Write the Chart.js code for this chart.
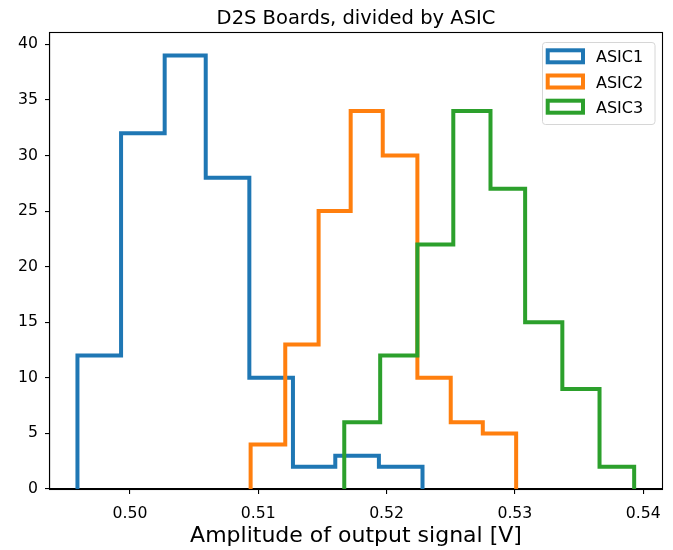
<!DOCTYPE html>
<html>
<head>
<meta charset="utf-8">
<script src="https://cdn.jsdelivr.net/npm/chart.js@4/dist/chart.umd.min.js"></script>
<style>
  html, body { margin: 0; padding: 0; background: #fff; }
  #wrap { width: 673px; height: 550px; }
</style>
</head>
<body>
<div id="wrap"><canvas id="c" width="673" height="550"></canvas></div>
<script>
// Histogram bin edges (V) and counts per ASIC
const asic1Edges  = [0.4959, 0.4993, 0.5027, 0.5059, 0.5093, 0.5127, 0.5160, 0.5194, 0.5228];
const asic1Counts = [12, 32, 39, 28, 10, 2, 3, 2];
const asic2Edges  = [0.5094, 0.5121, 0.5147, 0.5172, 0.5197, 0.5224, 0.5250, 0.5275, 0.5301];
const asic2Counts = [4, 13, 25, 34, 30, 10, 6, 5];
const asic3Edges  = [0.5167, 0.5195, 0.5224, 0.5252, 0.5281, 0.5308, 0.5337, 0.5366, 0.5393];
const asic3Counts = [6, 12, 22, 34, 27, 15, 9, 2];

const seriesNames = ['ASIC1', 'ASIC2', 'ASIC3'];
const xTickValues = [0.50, 0.51, 0.52, 0.53, 0.54];
const yTickValues = [0, 5, 10, 15, 20, 25, 30, 35, 40];

const chartTitle = 'D2S Boards, divided by ASIC';
const xTitle = 'Amplitude of output signal [V]';

const colors = ['#1f77b4', '#ff7f0e', '#2ca02c'];
const FONT = '"DejaVu Sans", "Liberation Sans", sans-serif';

// Step outline of a histogram: up at the first edge, across each bin, down at the last edge.
// With stepped 'before' each segment runs horizontally at the previous y, then vertically.
function stepOutline(edges, counts) {
  const pts = [{ x: edges[0], y: 0 }, { x: edges[0], y: counts[0] }];
  for (let i = 1; i < counts.length; i++) pts.push({ x: edges[i], y: counts[i] });
  pts.push({ x: edges[edges.length - 1], y: 0 });
  return pts;
}

const series = [
  [asic1Edges, asic1Counts],
  [asic2Edges, asic2Counts],
  [asic3Edges, asic3Counts]
];

const datasets = series.map(([e, c], i) => ({
  label: seriesNames[i],
  data: stepOutline(e, c),
  stepped: 'before',
  borderColor: colors[i],
  backgroundColor: 'rgba(255,255,255,0)',
  borderWidth: 4,
  borderJoinStyle: 'miter',
  borderCapStyle: 'butt',
  pointRadius: 0,
  fill: false,
  clip: 0,
  order: series.length - i
}));

// Frame, title, x-axis label and legend box
const decorations = {
  id: 'decorations',
  afterDatasetsDraw(chart) {
    const { ctx, chartArea: a } = chart;
    ctx.save();
    ctx.strokeStyle = '#000';
    ctx.lineWidth = 1.1;
    ctx.strokeRect(Math.round(a.left) - 0.5, Math.round(a.top) - 0.5,
                   Math.round(a.right - a.left) + 1, Math.round(a.bottom - a.top) + 1);
    ctx.restore();
  },
  afterDraw(chart) {
    const { ctx, chartArea: a } = chart;
    const cx = (a.left + a.right) / 2;
    ctx.save();
    ctx.fillStyle = '#000';
    ctx.textAlign = 'center';
    ctx.textBaseline = 'alphabetic';
    ctx.font = '19.5px ' + FONT;
    ctx.fillText(chartTitle, cx, 24);
    ctx.font = '22px ' + FONT;
    ctx.fillText(xTitle, cx, 542);

    // legend
    const lx = 542.5, ly = 42.5, lw = 112.5, lh = 82;
    ctx.beginPath();
    ctx.roundRect(lx, ly, lw, lh, 3);
    ctx.fillStyle = 'rgba(255,255,255,0.8)';
    ctx.fill();
    ctx.strokeStyle = '#d6d6d6';
    ctx.lineWidth = 1;
    ctx.stroke();
    ctx.font = '16px ' + FONT;
    ctx.textAlign = 'left';
    seriesNames.forEach((name, i) => {
      const cy = 56.3 + i * 25.2;
      ctx.strokeStyle = colors[i];
      ctx.lineWidth = 4;
      ctx.lineJoin = 'miter';
      ctx.strokeRect(547.7, cy - 6, 35.3, 12);
      ctx.fillStyle = '#000';
      ctx.fillText(name, 596, cy + 6);
    });
    ctx.restore();
  }
};

new Chart(document.getElementById('c'), {
  type: 'line',
  data: { datasets },
  options: {
    responsive: false,
    animation: false,
    devicePixelRatio: 1,
    layout: { padding: { top: 33, right: 11, left: 0, bottom: 0 } },
    plugins: { legend: { display: false }, title: { display: false }, tooltip: { enabled: false } },
    scales: {
      x: {
        type: 'linear',
        min: 0.49376,
        max: 0.54147,
        afterBuildTicks(scale) { scale.ticks = xTickValues.map(v => ({ value: v })); },
        afterFit(scale) { scale.height = 61; },
        ticks: {
          color: '#000',
          font: { family: FONT, size: 15.7 },
          padding: 11,
          maxRotation: 0,
          autoSkip: false,
          callback: v => v.toFixed(2)
        },
        grid: { drawOnChartArea: false, drawTicks: true, tickLength: 5, color: '#000', lineWidth: 1.1 },
        border: { display: true, color: '#000', width: 1.1 }
      },
      y: {
        type: 'linear',
        min: 0,
        max: 41.02,
        afterBuildTicks(scale) { scale.ticks = yTickValues.map(v => ({ value: v })); },
        afterFit(scale) { scale.width = 50; },
        ticks: {
          color: '#000',
          font: { family: FONT, size: 15.7 },
          padding: 7,
          autoSkip: false,
          callback: v => String(v)
        },
        grid: { drawOnChartArea: false, drawTicks: true, tickLength: 5, color: '#000', lineWidth: 1.1 },
        border: { display: true, color: '#000', width: 1.1 }
      }
    }
  },
  plugins: [decorations]
});
</script>
</body>
</html>
